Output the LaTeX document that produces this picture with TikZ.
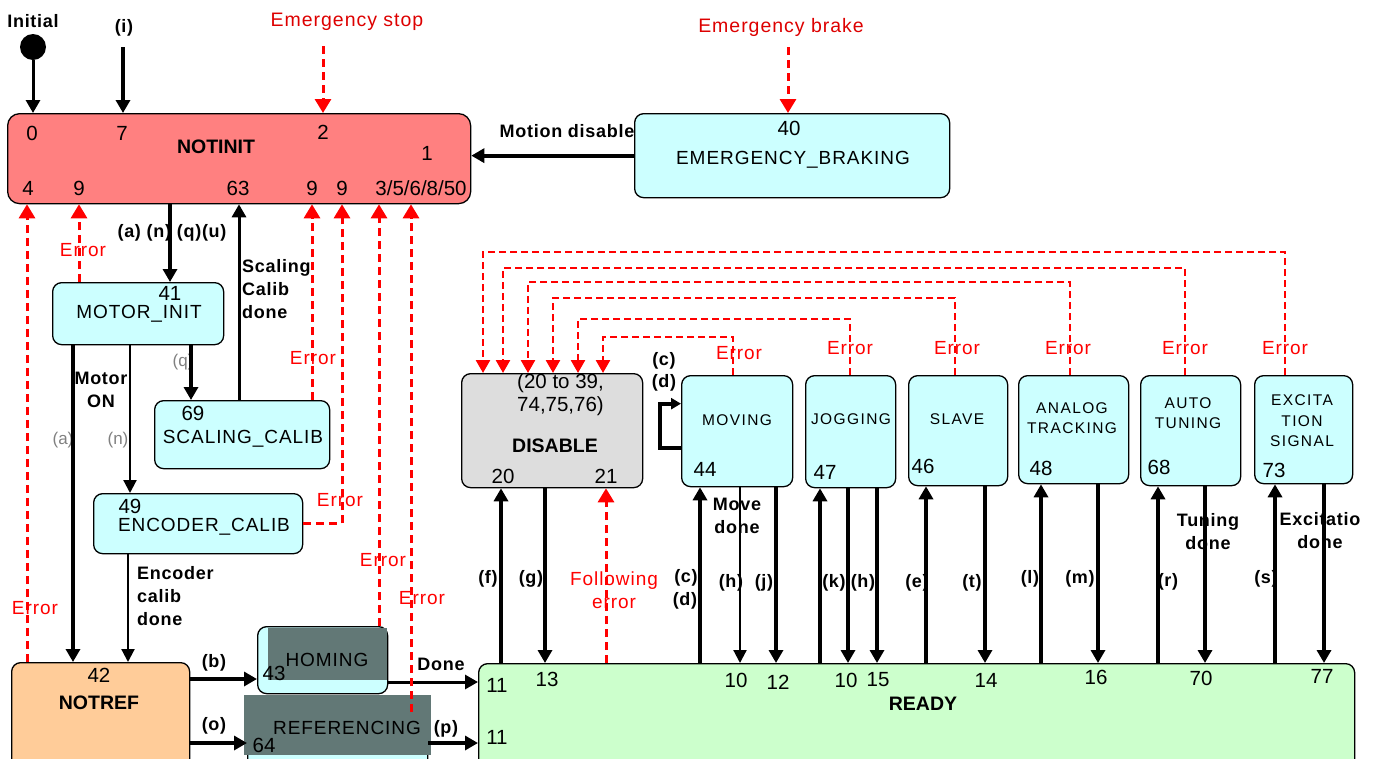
\documentclass[tikz,border=0pt]{standalone}
\usepackage{fontspec}
\setmainfont{Liberation Sans}
\newfontfamily\spc[LetterSpace=5]{Liberation Sans}
\newfontfamily\spcw[LetterSpace=9]{Liberation Sans}
\newfontfamily\spcb[LetterSpace=4]{Liberation Sans}
\usetikzlibrary{arrows.meta}
\definecolor{notinitc}{HTML}{FF8080}
\definecolor{cyanc}{HTML}{CCFFFF}
\definecolor{notrefc}{HTML}{FFCC99}
\definecolor{readyc}{HTML}{CCFFCC}
\definecolor{disc}{HTML}{DDDDDD}
\definecolor{ovc}{RGB}{98,120,118}
\definecolor{redc}{HTML}{FF0000}
\definecolor{redt}{HTML}{DD0000}
\definecolor{grayt}{HTML}{808080}
\begin{document}
\begin{tikzpicture}[x=1pt,y=-1pt,
 box/.style={draw=black,line width=1.3pt,rounded corners=9pt,anchor=north west,inner sep=0},
 arr/.style={line width=4pt,-{Triangle[width=14pt,length=13pt]}},
 marr/.style={line width=3pt,-{Triangle[width=14pt,length=13pt]}},
 tarr/.style={line width=2.2pt,-{Triangle[width=13pt,length=13pt]}},
 err/.style={redc,line width=3pt,dash pattern=on 8pt off 5pt,-{Triangle[width=16pt,length=14pt]}},
 lerr/.style={redc,line width=2.6pt,dash pattern=on 7pt off 4pt,-{Triangle[width=14pt,length=13pt]}},
 num/.style={inner sep=0,font=\fontsize{20.5}{23}\selectfont},
 nm/.style={inner sep=0,font=\spc\fontsize{19}{22}\selectfont},
 snm/.style={inner sep=0,align=center,font=\spcw\fontsize{15.5}{20.5}\selectfont},
 bl/.style={inner sep=0,font=\spcb\bfseries\fontsize{18}{23}\selectfont},
 bt/.style={inner sep=0,font=\bfseries\fontsize{19.5}{22}\selectfont},
 gl/.style={inner sep=0,text=grayt,font=\fontsize{17}{20}\selectfont},
 rl/.style={inner sep=0,text=redc,font=\spc\fontsize{19}{22}\selectfont},
 rt/.style={inner sep=0,text=redt,font=\spc\fontsize{19.5}{22}\selectfont},
]
\useasboundingbox (0,0) rectangle (1383,758);
\clip (0,0) rectangle (1383,758);

% ---------- boxes
\node[box,fill=notinitc,minimum width=463,minimum height=90,rounded corners=12pt] (notinit) at (7,113) {};
\node[box,fill=cyanc,minimum width=315,minimum height=84] (ebrake) at (634,113) {};
\node[box,fill=cyanc,minimum width=171,minimum height=62] (motor) at (52,282) {};
\node[box,fill=cyanc,minimum width=175,minimum height=68] (scal) at (154,400) {};
\node[box,fill=cyanc,minimum width=209,minimum height=60] (enc) at (93,493) {};
\node[box,fill=notrefc,minimum width=178,minimum height=120] (notref) at (11,662) {};
\node[box,fill=cyanc,minimum width=130,minimum height=67] (homing) at (257,626) {};
\node[box,fill=cyanc,minimum width=180,minimum height=90] (refer) at (247,695) {};
\node[box,fill=readyc,minimum width=876,minimum height=120] (ready) at (478,663) {};
\node[box,fill=disc,minimum width=181,minimum height=114] (disable) at (461,373) {};
\node[box,fill=cyanc,minimum width=111,minimum height=111] (moving) at (681,375) {};
\node[box,fill=cyanc,minimum width=90,minimum height=112] (jog) at (805,375) {};
\node[box,fill=cyanc,minimum width=99,minimum height=110] (slave) at (908,375) {};
\node[box,fill=cyanc,minimum width=110,minimum height=108] (analog) at (1018,375) {};
\node[box,fill=cyanc,minimum width=100,minimum height=110] (auto) at (1140,375) {};
\node[box,fill=cyanc,minimum width=98,minimum height=108] (excit) at (1254,375) {};

% overlays on HOMING / REFERENCING
\fill[ovc] (268,627.5) rectangle (386.5,680);
\fill[ovc] (244,695) rectangle (431,755);

% ---------- NOTINIT texts
\node[num] (n0) at (32,133) {0};
\node[num] (n7) at (122,133) {7};
\node[bt] (nnot) at (216,147) {NOTINIT};
\node[num] (n2) at (323,132) {2};
\node[num] (n1) at (427,153) {1};
\node[num] (n4) at (28,188) {4};
\node[num] (n9a) at (79,188) {9};
\node[num] (n63) at (238,188) {63};
\node[num] (n9b) at (312,188) {9};
\node[num] (n9c) at (342,188) {9};
\node[num] (n35) at (421,188) {3/5/6/8/50};

% ---------- top entries
\node[bl] (tinit) at (33,21) {Initial};
\node[circle,fill=black,inner sep=0,minimum size=26] (init) at (33,47) {};
\node[bl] (ti) at (124,28) {(i)};
\coordinate (ic) at (123,47);
\node[rt] (testop) at (347,22) {Emergency stop};
\coordinate (esc) at (323,46);
\node[rt] (tebr) at (781,27) {Emergency brake};
\coordinate (ebc) at (788,47);
\draw[marr] (init) -- (notinit.north -| init);
\draw[arr] (ic) -- (notinit.north -| ic);
\draw[err] (esc) -- (notinit.north -| esc);
\draw[err] (ebc) -- (ebrake.north -| ebc);

% ---------- EMERGENCY_BRAKING
\node[num] (n40) at (789,128) {40};
\node[nm] (tebn) at (793,160) {EMERGENCY\_BRAKING};
\draw[arr] (ebrake.west) -- (notinit.east |- ebrake.west);
\node[bl] (tmd) at (567,131) {Motion disable};

% ---------- MOTOR_INIT, SCALING_CALIB
\node[bl] (tann) at (172,233) {(a) (n) (q)(u)};
\draw[arr] (notinit.south -| 170,0) -- (motor.north -| 170,0);
\node[num] (n41) at (170,293) {41};
\node[nm] (tmi) at (139,314) {MOTOR\_INIT};
\draw[err] (motor.north -| 79,0) -- (notinit.south -| 79,0);
\node[rl] (terr1) at (83,250) {Error};
\node[gl] (tq) at (183,362) {(q)};
\draw[arr] (motor.south -| 191,0) -- (scal.north -| 191,0);
\draw[marr] (scal.north -| 239,0) -- (notinit.south -| 239,0);
\node[bl,align=left,anchor=west] (tscd) at (242,289) {Scaling\\Calib\\done};
\node[num] (n69) at (193,413) {69};
\node[nm] (tsc) at (243,439) {SCALING\_CALIB};
\draw[err] (scal.north -| 312,0) -- (notinit.south -| 312,0);
\node[rl] (terr2) at (313,358) {Error};
\node[bl,align=center] (tmon) at (101,390) {Motor\\ON};
\node[gl] (ta) at (63,440) {(a)};
\node[gl] (tn) at (118,440) {(n)};
\draw[arr] (motor.south -| 73,0) -- (notref.north -| 73,0);
\draw[tarr] (motor.south -| 130,0) -- (enc.north -| 130,0);

% ---------- ENCODER_CALIB
\node[num] (n49) at (130,506) {49};
\node[nm] (tenc) at (204,527) {ENCODER\_CALIB};
\draw[err] (enc.east) -| (notinit.south -| 342,0);
\node[rl] (terr3) at (340,500) {Error};
\draw[tarr] (enc.south -| 128,0) -- (notref.north -| 128,0);
\node[bl,align=left,anchor=west] (tecd) at (137,596) {Encoder\\calib\\done};

% ---------- left error
\draw[err] (notref.north -| 27,0) -- (notinit.south -| 27,0);
\node[rl] (terr4) at (35,608) {Error};

% ---------- NOTREF, HOMING, REFERENCING
\node[num] (n42) at (99,675) {42};
\node[bt] (tnr) at (99,703) {NOTREF};
\node[nm] (thom) at (327,660) {HOMING};
\node[num] (n43) at (274,673) {43};
\node[nm] (tref) at (347,728) {REFERENCING};
\node[num] (n64) at (264,745) {64};
\node[bl] (tb) at (214,663) {(b)};
\node[bl] (to) at (214,726) {(o)};
\draw[arr] (notref.east |- 0,679) -- (homing.west |- 0,679);
\draw[arr] (notref.east |- 0,743) -- (refer.west |- 0,743);
\draw[marr] (homing.east |- 0,682) -- (ready.west |- 0,682);
\node[bl] (tdone) at (441,664) {Done};
\draw[arr] (refer.east |- 0,743) -- (ready.west |- 0,743);
\node[bl] (tp) at (446,729) {(p)};
\draw[err] (homing.north -| 379,0) -- (notinit.south -| 379,0);
\node[rl] (terr5) at (383,560) {Error};
\coordinate (referr) at (411,712);
\draw[err] (referr) -- (notinit.south -| referr);
\node[rl] (terr6) at (422,598) {Error};

% ---------- DISABLE
\node[num,align=left,anchor=west] (tdr) at (517,395) {(20 to 39,\\74,75,76)};
\node[bt] (tdis) at (555,446) {DISABLE};
\node[num] (n20) at (503,476) {20};
\node[num] (n21) at (606,476) {21};
\node[bl] (tf) at (488,579) {(f)};
\node[bl] (tg) at (531,579) {(g)};
\node[rl,align=center,font=\spc\fontsize{19}{23}\selectfont] (tfe) at (614,590) {Following\\error};
\draw[arr] (ready.north -| 501,0) -- (disable.south -| 501,0);
\draw[arr] (disable.south -| 545,0) -- (ready.north -| 545,0);
\draw[err] (ready.north -| 606,0) -- (disable.south -| 606,0);

% ---------- MOVING
\node[snm] (tmov) at (737,420) {MOVING};
\node[num] (n44) at (705,469) {44};
\draw[line width=4pt,-{Triangle[width=11pt,length=10pt]}] ([yshift=-17pt]moving.west) -| ([xshift=-21pt,yshift=27.5pt]moving.west) -- ([yshift=27.5pt]moving.west);
\node[bl] (tc1) at (664,361) {(c)};
\node[bl] (td1) at (664,383) {(d)};
\node[bl] (tc2) at (686,578) {(c)};
\node[bl] (td2) at (685,601) {(d)};
\node[bl,align=center] (tmd2) at (737,516) {Move\\done};
\node[bl] (th1) at (731,583) {(h)};
\node[bl] (tj) at (764,583) {(j)};
\draw[arr] (ready.north -| 700,0) -- (moving.south -| 700,0);
\draw[tarr] (moving.south -| 740,0) -- (ready.north -| 740,0);
\draw[arr] (moving.south -| 776,0) -- (ready.north -| 776,0);

% ---------- JOGGING
\node[snm] (tjog) at (851,419) {JOGGING};
\node[num] (n47) at (825,472) {47};
\node[bl] (tk) at (834,583) {(k)};
\node[bl] (th2) at (863,583) {(h)};
\draw[arr] (ready.north -| 820,0) -- (jog.south -| 820,0);
\draw[arr] (jog.south -| 848,0) -- (ready.north -| 848,0);
\draw[arr] (jog.south -| 877,0) -- (ready.north -| 877,0);

% ---------- SLAVE
\node[snm] (tslv) at (957,419) {SLAVE};
\node[num] (n46) at (923,466) {46};
\node[bl] (te) at (917,583) {(e)};
\node[bl] (tt) at (972,583) {(t)};
\draw[arr] (ready.north -| 926,0) -- (slave.south -| 926,0);
\draw[arr] (slave.south -| 985,0) -- (ready.north -| 985,0);

% ---------- ANALOG TRACKING
\node[snm] (tana) at (1072,418) {ANALOG\\TRACKING};
\node[num] (n48) at (1041,468) {48};
\node[bl] (tl) at (1030,579) {(l)};
\node[bl] (tm) at (1080,579) {(m)};
\draw[arr] (ready.north -| 1041,0) -- (analog.south -| 1041,0);
\draw[arr] (analog.south -| 1098,0) -- (ready.north -| 1098,0);

% ---------- AUTO TUNING
\node[snm] (taut) at (1188,413) {AUTO\\TUNING};
\node[num] (n68) at (1159,467) {68};
\node[bl] (tr) at (1168,582) {(r)};
\node[bl,align=center] (ttd) at (1208,532) {Tuning\\done};
\draw[arr] (ready.north -| 1158,0) -- (auto.south -| 1158,0);
\draw[arr] (auto.south -| 1205,0) -- (ready.north -| 1205,0);

% ---------- EXCITATION SIGNAL
\node[snm] (texc) at (1302,421) {EXCITA\\TION\\SIGNAL};
\node[num] (n73) at (1274,470) {73};
\node[bl] (ts) at (1266,579) {(s)};
\node[bl,align=center] (ted) at (1320,531) {Excitatio\\done};
\draw[arr] (ready.north -| 1275,0) -- (excit.south -| 1275,0);
\draw[arr] (excit.south -| 1324,0) -- (ready.north -| 1324,0);

% ---------- READY
\node[bt] (trdy) at (923,704) {READY};
\node[num] (r11a) at (497,685) {11};
\node[num] (r11b) at (497,737) {11};
\node[num] (r13) at (547,679) {13};
\node[num] (r10a) at (736,680) {10};
\node[num] (r12) at (778,682) {12};
\node[num] (r10b) at (846,680) {10};
\node[num] (r15) at (878,680) {15};
\node[num] (r14) at (986,680) {14};
\node[num] (r16) at (1096,677) {16};
\node[num] (r70) at (1201,678) {70};
\node[num] (r77) at (1322,676) {77};

% ---------- error loops to DISABLE
\draw[lerr] (excit.north -| 1285,0) |- (483,252) -- (disable.north -| 483,0);
\draw[lerr] (auto.north -| 1185,0) |- (503,268) -- (disable.north -| 503,0);
\draw[lerr] (analog.north -| 1070,0) |- (528,282) -- (disable.north -| 528,0);
\draw[lerr] (slave.north -| 955,0) |- (553,298) -- (disable.north -| 553,0);
\draw[lerr] (jog.north -| 850,0) |- (578,319) -- (disable.north -| 578,0);
\draw[lerr] (moving.north -| 733,0) |- (603,337) -- (disable.north -| 603,0);
\node[rl] (te1) at (1285,348) {Error};
\node[rl] (te2) at (1185,348) {Error};
\node[rl] (te3) at (1068,348) {Error};
\node[rl] (te4) at (957,348) {Error};
\node[rl] (te5) at (850,348) {Error};
\node[rl] (te6) at (739,353) {Error};
\end{tikzpicture}
\end{document}
